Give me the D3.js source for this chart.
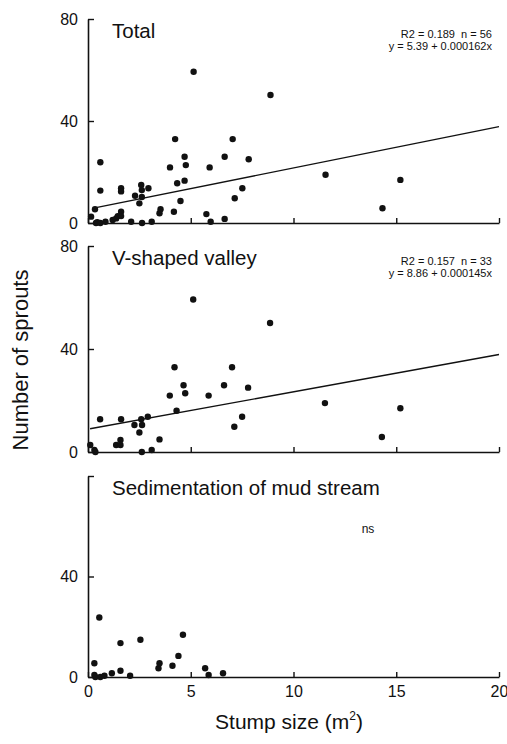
<!DOCTYPE html>
<html><head><meta charset="utf-8">
<script src="https://cdn.jsdelivr.net/npm/d3@7"></script>
<style>body{margin:0;background:#fff}</style>
</head><body>
<svg id="c" width="507" height="744"></svg>
<script>
// ---- data ----
const xTicks = [0, 5, 10, 15, 20];
const yTicks = [0, 40, 80];
const panelNames = ["Total", "V-shaped valley", "Sedimentation of mud stream"];

const totalX = [0.15,0.34,0.39,0.45,0.6,0.6,0.6,0.85,1.2,1.37,1.45,1.61,1.61,1.61,1.61,2.1,2.29,2.5,2.59,2.62,2.62,2.63,2.94,3.1,3.48,3.53,3.99,4.18,4.24,4.34,4.5,4.7,4.7,4.76,5.14,5.76,5.92,5.97,6.65,6.65,7.04,7.14,7.51,7.82,8.88,11.56,15.2,14.33];
const totalY = [2.5,5.4,0,0.3,0,23.8,12.7,0.5,1.2,1.8,2.7,4.4,2.7,13.6,12.4,0.5,10.7,7.7,14.9,12.9,10.2,0,13.6,0.5,3.8,5.4,21.8,4.4,32.9,15.6,8.6,26,16.6,22.7,59.3,3.5,21.8,0.5,1.6,26,32.9,9.7,13.6,25,50.2,18.9,16.9,5.8];

const valleyX = [0.11,0.31,0.36,0.59,1.37,1.58,1.58,1.61,2.26,2.5,2.59,2.63,2.62,2.91,3.1,3.48,3.98,4.21,4.31,4.65,4.73,5.12,5.87,6.62,7.01,7.12,7.5,7.79,8.86,11.53,15.2,14.3];
const valleyY = [2.7,0.8,0,12.7,2.7,4.7,2.7,12.7,10.5,7.6,12.7,10.5,0,13.7,0.8,4.9,21.9,32.9,16,25.9,22.8,59.2,21.9,25.9,32.9,9.8,13.7,25,50.1,19,17,5.8];

const mudX = [0.31,0.31,0.36,0.6,0.8,1.16,1.58,1.58,2.05,2.55,3.43,3.48,4.11,4.4,5.7,5.87,6.57,0.55,4.62];
const mudY = [5.5,0.8,0,0,0.5,1.5,2.5,13.5,0.5,14.8,3.5,5.5,4.5,8.4,3.5,0.8,1.5,23.7,16.8];

const statLine1 = ["R2 = 0.189\u00a0\u00a0n = 56", "R2 = 0.157\u00a0\u00a0n = 33", "ns"];
const statLine2 = ["y = 5.39 + 0.000162x", "y = 8.86 + 0.000145x", ""];
const regIntercept = [5.39, 8.86, null];
const regSlope = [0.000162, 0.000145, null]; // per cm²
const regStart = [0.39, 0.1, null];

// ---- layout ----
const svg = d3.select("#c");
const X0 = 88, X1 = 499;
const panels = [
  {top: 19, bottom: 223, xs: totalX, ys: totalY},
  {top: 246, bottom: 452, xs: valleyX, ys: valleyY},
  {top: 476, bottom: 677, xs: mudX, ys: mudY}
];
const x = d3.scaleLinear().domain([0, 20]).range([X0, X1]);
const FONT = "'Liberation Sans', Arial, sans-serif";
const NARROW = "'Liberation Sans Narrow', 'Arial Narrow', 'Liberation Sans', sans-serif";

panels.forEach((p, i) => {
  const y = d3.scaleLinear().domain([0, 80]).range([p.bottom, p.top]);
  const g = svg.append("g");

  // x axis
  const xa = d3.axisBottom(x).tickValues(xTicks).tickSizeInner(-5).tickSizeOuter(0).tickPadding(9)
    .tickFormat(i === 2 ? d3.format("d") : () => "");
  const gx = g.append("g").attr("transform", `translate(0,${p.bottom})`).call(xa);
  gx.select(".domain").attr("stroke", "#111").attr("stroke-width", 1.6);
  gx.selectAll(".tick line").attr("stroke", "#111").attr("stroke-width", 1.4);
  gx.selectAll("text").attr("font-family", NARROW).attr("font-size", 16).attr("fill", "#111");

  // y axis
  const ya = d3.axisLeft(y).tickValues(yTicks).tickSizeInner(-6).tickSizeOuter(0).tickPadding(10)
    .tickFormat(d => (i === 2 && d === 80) ? "" : d);
  const gy = g.append("g").attr("transform", `translate(${X0},0)`).call(ya);
  gy.select(".domain").attr("stroke", "#111").attr("stroke-width", 1.6);
  gy.selectAll(".tick line").attr("stroke", "#111").attr("stroke-width", 1.4);
  gy.selectAll("text").attr("font-family", NARROW).attr("font-size", 16).attr("fill", "#111");

  // title
  g.append("text").attr("x", 112).attr("y", p.top + 19)
    .attr("font-family", FONT).attr("font-size", 20.5).attr("fill", "#111").text(panelNames[i]);

  // stats
  if (i < 2) {
    g.append("text").attr("x", 492).attr("y", p.top + 18.5).attr("text-anchor", "end")
      .attr("font-family", NARROW).attr("font-size", 11).attr("fill", "#111").text(statLine1[i]);
    g.append("text").attr("x", 492).attr("y", p.top + 30.5).attr("text-anchor", "end")
      .attr("font-family", NARROW).attr("font-size", 11).attr("fill", "#111").text(statLine2[i]);
    // regression line
    const f = v => regIntercept[i] + regSlope[i] * v * 10000;
    g.append("line")
      .attr("x1", x(regStart[i])).attr("y1", y(f(regStart[i])))
      .attr("x2", x(20)).attr("y2", y(f(20)))
      .attr("stroke", "#111").attr("stroke-width", 1.4);
  } else {
    g.append("text").attr("x", 368).attr("y", p.top + 57).attr("text-anchor", "middle")
      .attr("font-family", NARROW).attr("font-size", 12).attr("fill", "#111").text(statLine1[i]);
  }

  // points
  g.selectAll("circle").data(d3.range(p.xs.length)).join("circle")
    .attr("cx", k => x(p.xs[k])).attr("cy", k => y(p.ys[k])).attr("r", 3.2).attr("fill", "#111");
});

// axis titles
svg.append("text").attr("transform", "translate(28,360) rotate(-90)").attr("text-anchor", "middle")
  .attr("font-family", FONT).attr("font-size", 22).attr("fill", "#111").text("Number of sprouts");
const xt = svg.append("text").attr("x", 289).attr("y", 729).attr("text-anchor", "middle")
  .attr("font-family", FONT).attr("font-size", 21).attr("fill", "#111");
xt.append("tspan").text("Stump size (m");
xt.append("tspan").attr("font-size", 12).attr("dy", -9).text("2");
xt.append("tspan").attr("dy", 9).text(")");
</script>
</body></html>
